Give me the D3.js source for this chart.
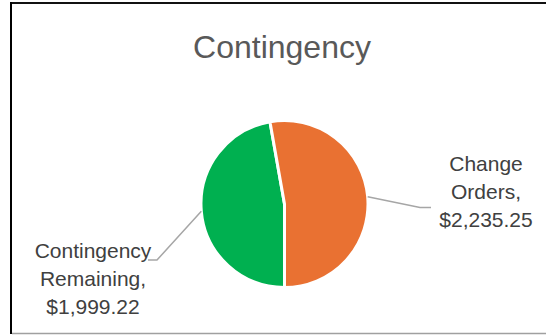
<!DOCTYPE html>
<html>
<head>
<meta charset="utf-8">
<script src="https://cdn.jsdelivr.net/npm/d3@7"></script>
<style>
  html, body { margin: 0; padding: 0; background: #fff; }
  svg { display: block; }
  text { font-family: "Liberation Sans", Arial, sans-serif; }
</style>
</head>
<body>
<svg id="chart" width="546" height="335"></svg>
<script>
// Contingency breakdown
const title = "Contingency";
const categories = ["Contingency Remaining", "Change Orders"];
const values = [1999.22, 2235.25];
const labelLines = [["Contingency", "Remaining,"], ["Change", "Orders,"]];
const colors = ["#00B050", "#E97132"];

const svg = d3.select("#chart");
const W = 546, H = 335;

// frame
svg.append("line").attr("x1", 10).attr("x2", W).attr("y1", 3).attr("y2", 3)
  .attr("stroke", "#111").attr("stroke-width", 2);
svg.append("line").attr("x1", 11).attr("x2", 11).attr("y1", 2).attr("y2", 334)
  .attr("stroke", "#000").attr("stroke-width", 2);
svg.append("line").attr("x1", 12).attr("x2", W).attr("y1", 333.5).attr("y2", 333.5)
  .attr("stroke", "#a0a0a0").attr("stroke-width", 1.5);

// title
svg.append("text")
  .attr("x", 282).attr("y", 58)
  .attr("text-anchor", "middle")
  .attr("font-size", 32)
  .attr("fill", "#595959")
  .text(title);

const cx = 284.5, cy = 204, r = 83.5;
const data = categories.map((c, i) => ({ name: c, value: values[i], color: colors[i], lines: labelLines[i] }));

const pie = d3.pie().sort(null).value(d => d.value)
  .startAngle(Math.PI).endAngle(3 * Math.PI);
const arcs = pie(data);
const arc = d3.arc().innerRadius(0).outerRadius(r);

const g = svg.append("g").attr("transform", `translate(${cx},${cy})`);
g.selectAll("path.slice").data(arcs).join("path")
  .attr("class", "slice")
  .attr("d", arc)
  .attr("fill", d => d.data.color)
  .attr("stroke", "#fff")
  .attr("stroke-width", 3)
  .attr("stroke-linejoin", "round");

// data labels with leader lines
const fmt = d3.format("$,.2f");
const labelPos = [
  { x: 93, y: 258, elbow: [157, 260], end: [148, 260] },
  { x: 486, y: 170.5, elbow: [420, 207.5], end: [431, 207.5] }
];
const lineH = 28.2;

arcs.forEach((a, i) => {
  const mid = (a.startAngle + a.endAngle) / 2;
  const sx = cx + Math.sin(mid) * r, sy = cy - Math.cos(mid) * r;
  const p = labelPos[i];
  svg.append("polyline")
    .attr("points", [[sx, sy], p.elbow, p.end].map(q => q.join(",")).join(" "))
    .attr("fill", "none")
    .attr("stroke", "#a6a6a6")
    .attr("stroke-width", 1.5);
  const t = svg.append("text")
    .attr("text-anchor", "middle")
    .attr("font-size", 21)
    .attr("fill", "#404040");
  const lines = a.data.lines.concat([fmt(a.data.value)]);
  lines.forEach((ln, k) => {
    t.append("tspan").attr("x", p.x).attr("y", p.y + k * lineH).text(ln);
  });
});
</script>
</body>
</html>
